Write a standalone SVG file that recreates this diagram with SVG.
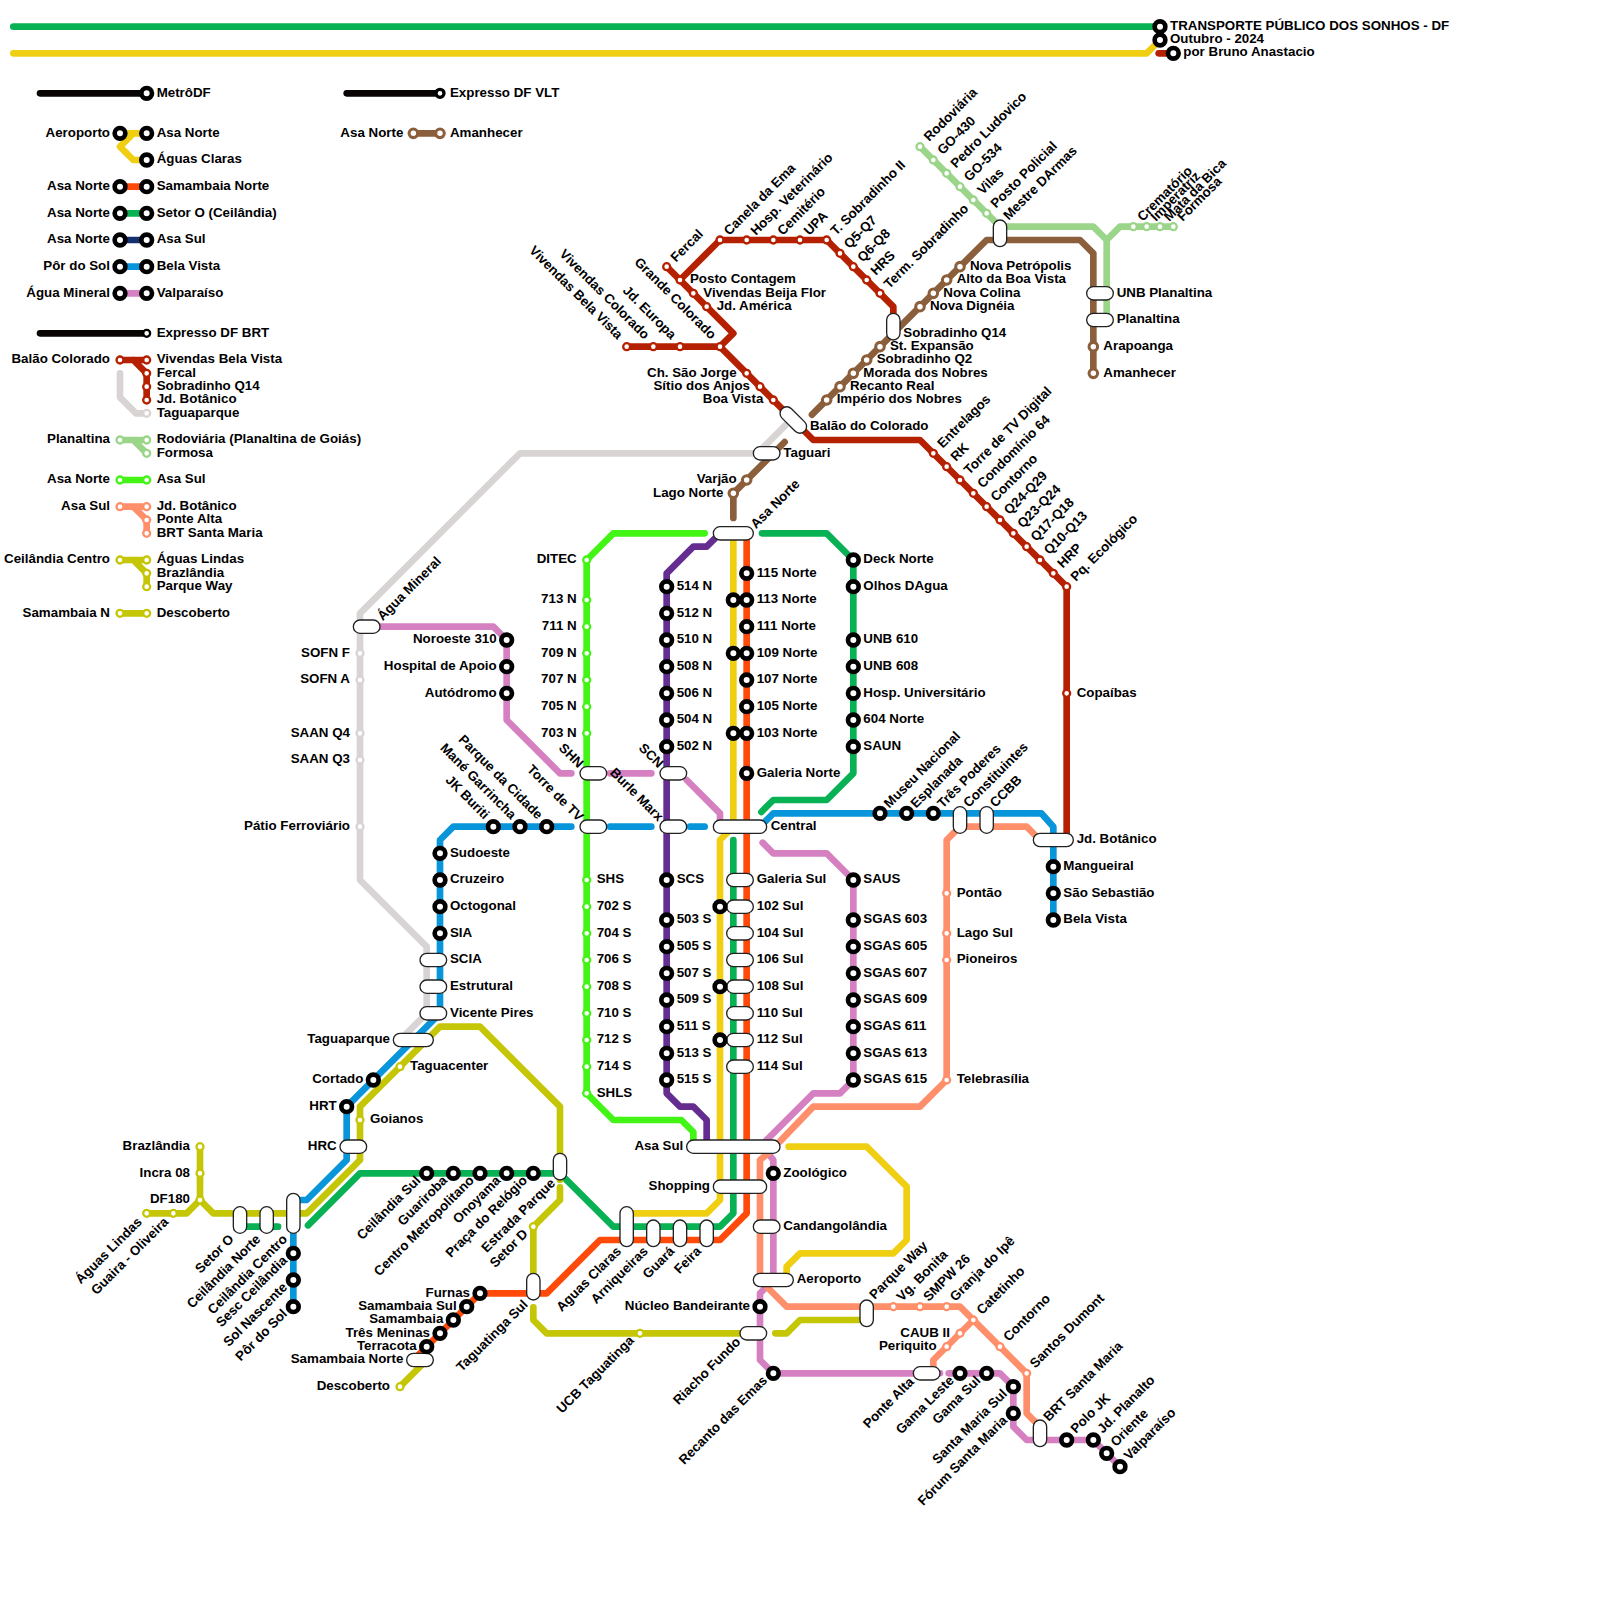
<svg xmlns="http://www.w3.org/2000/svg" width="1600" height="1600" viewBox="0 0 1600 1600">
<style>
.l{fill:none;stroke-width:5;stroke-linecap:round;stroke-linejoin:round}
.gn{stroke:#08b154}.ye{stroke:#f0cf12}.or{stroke:#ff4a0a}.rd{stroke:#b52100}.br{stroke:#8b5e3c}.pu{stroke:#652d90}.bl{stroke:#0895d9}.pk{stroke:#d580c0}.sa{stroke:#ff8f6b}.ol{stroke:#c4c606}.bg{stroke:#42f514}.lg{stroke:#9ad58a}.gr{stroke:#d9d4d4}.nv{stroke:#14306f}.bk{stroke:#0a0505}
circle{fill:#fff}
.m{stroke:#000;stroke-width:3.5}
.s{stroke-width:1.75}
.v{stroke-width:2.3}
rect{fill:#fff;stroke:#222;stroke-width:1}
text{font-family:"Liberation Sans",Arial,sans-serif;font-weight:bold;font-size:10px;fill:#000}
.e{text-anchor:end}
</style>
<g transform="scale(1.33333)">
<g id="connectors">
<path class="l gn" d="M10 20H870"/>
<path class="l ye" d="M10 40H860L870 30"/>
<path class="l rd" d="M869 40H880"/>
<path class="l bk" d="M30 70H110M30 250H110M260 70H330"/>
<path class="l ye" d="M90 100H110M100 100L90 110L100 120H110"/>
<path class="l or" d="M90 140H110"/>
<path class="l gn" d="M90 160H110"/>
<path class="l nv" d="M90 180H110"/>
<path class="l bl" d="M90 200H110"/>
<path class="l pk" d="M90 220H110"/>
<path class="l br" d="M310 100H330"/>
<path class="l rd" d="M90 270H110M100 270L110 280V300"/>
<path class="l gr" d="M90 280V298L102 310H110"/>
<path class="l lg" d="M90 330H110M100 330L110 340"/>
<path class="l bg" d="M90 360H110"/>
<path class="l sa" d="M90 380H110M100 380L110 390V400"/>
<path class="l ol" d="M90 420H110M100 420L110 430V440"/>
<path class="l ol" d="M90 460H110"/>
<path class="l gr" d="M589 319L568 340H390L270 460V660L320 710V760L300 780"/>
<path class="l br" d="M550 388.500V370L588.500 331.500"/>
<path class="l br" d="M609 311L740 180H810L820 190V280"/>
<path class="l lg" d="M690 110L750 170H820L830 180V240M830 180L840 170H880"/>
<path class="l rd" d="M500 200L550 250L540 260H470M540 260L610 330H690L800 440V630"/>
<path class="l rd" d="M510 210L540 180H620L670 230V245"/>
<path class="l bg" d="M528.500 400H460L440 420V820L460 840H511L520 849V858"/>
<path class="l pu" d="M540 400L530 410H520L500 430V820L510 830H520L530 840V860"/>
<path class="l ye" d="M550 400V620L540 630V900L530 910H475"/>
<path class="l gn" d="M550 630V910L540 920H460L420 880H270L231 919"/>
<path class="l gn" d="M185 920H208.500"/>
<path class="l or" d="M560 400V910L540 930H450L410 970H360L310 1020"/>
<path class="l gn" d="M571.500 400H620L640 420V580L620 600H580L571 609"/>
<path class="l bl" d="M428.500 620H340L330 630V760L260 830V870L230 900H225"/>
<path class="l bl" d="M220 925V980"/>
<path class="l bl" d="M457.500 620H488.500M517.500 620H528.500"/>
<path class="l bl" d="M574 616L580 610H781L790 620V690"/>
<path class="l pk" d="M285 470H370L380 480V540L420 580H428.500M457.500 580H488.500M515 585L540 610V620"/>
<path class="l pk" d="M572 632L580 640H620L640 660V810L630 820H610L572 858"/>
<path class="l pk" d="M576 865L580 870V955M574 966L570 970V1020L580 1030H705M711.500 1030H750L760 1040V1070L770 1080H820L840 1100"/>
<path class="l sa" d="M585 856L610 830H690L710 810V630L720 620H770L778 628"/>
<path class="l sa" d="M576 865L570 870V955M576 966L590 980H720L770 1030V1060L777 1067M730 990L700 1020V1026"/>
<path class="l ye" d="M591.500 860H650L680 890V930L670 940H600L590 950V955"/>
<path class="l ol" d="M110 910H140L150 900V860M150 900L160 910H230L270 870V830L330 770H360L420 830V885"/>
<path class="l ol" d="M420 890.500V900L400 920V955M400 980.500V990L410 1000H555M581.500 1000H590L600 990H645"/>
<path class="l ol" d="M320 1020L300 1040"/>
</g>

<g id="title">
<g id="t1"><circle class="m" cx="870" cy="20" r="4"/><text x="877.500" y="22.500">TRANSPORTE PÚBLICO DOS SONHOS - DF</text></g>
<g id="t2"><circle class="m" cx="870" cy="30" r="4"/><text x="877.500" y="32.500">Outubro - 2024</text></g>
<g id="t3"><circle class="m" cx="880" cy="40" r="4"/><text x="887.500" y="42">por Bruno Anastacio</text></g>
</g>

<g id="legend">
<g id="lg-metro"><circle class="m" cx="110" cy="70" r="4"/><text x="117.500" y="72.500">MetrôDF</text></g>
<g id="lg-vlt"><circle class="m" cx="330" cy="70" r="3" style="stroke-width:2.5"/><text x="337.500" y="72.500">Expresso DF VLT</text></g>
<g id="lg-brt"><circle class="s" style="stroke:#000" cx="110" cy="250" r="2.6"/><text x="117.500" y="252.500">Expresso DF BRT</text></g>
<g id="lg-a1"><circle class="m" cx="90" cy="100" r="4"/><text class="e" x="82.500" y="102.500">Aeroporto</text></g>
<g id="lg-a2"><circle class="m" cx="110" cy="100" r="4"/><text x="117.500" y="102.500">Asa Norte</text></g>
<g id="lg-a3"><circle class="m" cx="110" cy="120" r="4"/><text x="117.500" y="122.500">Águas Claras</text></g>
<g id="lg-b1"><circle class="m" cx="90" cy="140" r="4"/><text class="e" x="82.500" y="142.500">Asa Norte</text></g>
<g id="lg-b2"><circle class="m" cx="110" cy="140" r="4"/><text x="117.500" y="142.500">Samambaia Norte</text></g>
<g id="lg-c1"><circle class="m" cx="90" cy="160" r="4"/><text class="e" x="82.500" y="162.500">Asa Norte</text></g>
<g id="lg-c2"><circle class="m" cx="110" cy="160" r="4"/><text x="117.500" y="162.500">Setor O (Ceilândia)</text></g>
<g id="lg-d1"><circle class="m" cx="90" cy="180" r="4"/><text class="e" x="82.500" y="182.500">Asa Norte</text></g>
<g id="lg-d2"><circle class="m" cx="110" cy="180" r="4"/><text x="117.500" y="182.500">Asa Sul</text></g>
<g id="lg-e1"><circle class="m" cx="90" cy="200" r="4"/><text class="e" x="82.500" y="202.500">Pôr do Sol</text></g>
<g id="lg-e2"><circle class="m" cx="110" cy="200" r="4"/><text x="117.500" y="202.500">Bela Vista</text></g>
<g id="lg-f1"><circle class="m" cx="90" cy="220" r="4"/><text class="e" x="82.500" y="222.500">Água Mineral</text></g>
<g id="lg-f2"><circle class="m" cx="110" cy="220" r="4"/><text x="117.500" y="222.500">Valparaíso</text></g>
<g id="lg-g1"><circle class="v br" cx="310" cy="100" r="3.2"/><text class="e" x="302.500" y="102.500">Asa Norte</text></g>
<g id="lg-g2"><circle class="v br" cx="330" cy="100" r="3.2"/><text x="337.500" y="102.500">Amanhecer</text></g>
<g id="lg-h1"><circle class="s rd" cx="90" cy="270" r="2.6"/><text class="e" x="82.500" y="272.500">Balão Colorado</text></g>
<g id="lg-h2"><circle class="s rd" cx="110" cy="270" r="2.6"/><text x="117.500" y="272.500">Vivendas Bela Vista</text></g>
<g id="lg-h3"><circle class="s rd" cx="110" cy="280" r="2.6"/><text x="117.500" y="282.500">Fercal</text></g>
<g id="lg-h4"><circle class="s rd" cx="110" cy="290" r="2.6"/><text x="117.500" y="292.500">Sobradinho Q14</text></g>
<g id="lg-h5"><circle class="s rd" cx="110" cy="300" r="2.6"/><text x="117.500" y="302.500">Jd. Botânico</text></g>
<g id="lg-h6"><circle class="s gr" cx="110" cy="310" r="2.6"/><text x="117.500" y="312.500">Taguaparque</text></g>
<g id="lg-i1"><circle class="s lg" cx="90" cy="330" r="2.6"/><text class="e" x="82.500" y="332.500">Planaltina</text></g>
<g id="lg-i2"><circle class="s lg" cx="110" cy="330" r="2.6"/><text x="117.500" y="332.500">Rodoviária (Planaltina de Goiás)</text></g>
<g id="lg-i3"><circle class="s lg" cx="110" cy="340" r="2.6"/><text x="117.500" y="342.500">Formosa</text></g>
<g id="lg-j1"><circle class="s bg" cx="90" cy="360" r="2.6"/><text class="e" x="82.500" y="362.500">Asa Norte</text></g>
<g id="lg-j2"><circle class="s bg" cx="110" cy="360" r="2.6"/><text x="117.500" y="362.500">Asa Sul</text></g>
<g id="lg-k1"><circle class="s sa" cx="90" cy="380" r="2.6"/><text class="e" x="82.500" y="382.500">Asa Sul</text></g>
<g id="lg-k2"><circle class="s sa" cx="110" cy="380" r="2.6"/><text x="117.500" y="382.500">Jd. Botânico</text></g>
<g id="lg-k3"><circle class="s sa" cx="110" cy="390" r="2.6"/><text x="117.500" y="392.500">Ponte Alta</text></g>
<g id="lg-k4"><circle class="s sa" cx="110" cy="400" r="2.6"/><text x="117.500" y="402.500">BRT Santa Maria</text></g>
<g id="lg-l1"><circle class="s ol" cx="90" cy="420" r="2.6"/><text class="e" x="82.500" y="422.500">Ceilândia Centro</text></g>
<g id="lg-l2"><circle class="s ol" cx="110" cy="420" r="2.6"/><text x="117.500" y="422.500">Águas Lindas</text></g>
<g id="lg-l3"><circle class="s ol" cx="110" cy="430" r="2.6"/><text x="117.500" y="432.500">Brazlândia</text></g>
<g id="lg-l4"><circle class="s ol" cx="110" cy="440" r="2.6"/><text x="117.500" y="442.500">Parque Way</text></g>
<g id="lg-m1"><circle class="s ol" cx="90" cy="460" r="2.6"/><text class="e" x="82.500" y="462.500">Samambaia N</text></g>
<g id="lg-m2"><circle class="s ol" cx="110" cy="460" r="2.6"/><text x="117.500" y="462.500">Descoberto</text></g>
</g>

<g id="nodes-red">
<g id="r1"><circle class="s rd" cx="500" cy="200" r="2.6"/><text transform="rotate(-45 507 197)" x="507" y="197">Fercal</text></g>
<g id="r2"><circle class="s rd" cx="510" cy="210" r="2.6"/><text x="517.500" y="212.500">Posto Contagem</text></g>
<g id="r3"><circle class="s rd" cx="520" cy="220" r="2.6"/><text x="527.500" y="222.500">Vivendas Beija Flor</text></g>
<g id="r4"><circle class="s rd" cx="530" cy="230" r="2.6"/><text x="537.500" y="232.500">Jd. América</text></g>
<g id="r5"><circle class="s rd" cx="470" cy="260" r="2.6"/><text class="e" transform="rotate(45 463 255)" x="463" y="255">Vivendas Bela Vista</text></g>
<g id="r6"><circle class="s rd" cx="490" cy="260" r="2.6"/><text class="e" transform="rotate(45 483 255)" x="483" y="255">Vivendas Colorado</text></g>
<g id="r7"><circle class="s rd" cx="510" cy="260" r="2.6"/><text class="e" transform="rotate(45 503 255)" x="503" y="255">Jd. Europa</text></g>
<g id="r8"><circle class="s rd" cx="540" cy="260" r="2.6"/><text class="e" transform="rotate(45 533 255)" x="533" y="255">Grande Colorado</text></g>
<g id="r9"><circle class="s rd" cx="540" cy="180" r="2.6"/><text transform="rotate(-45 547 177)" x="547" y="177">Canela da Ema</text></g>
<g id="r10"><circle class="s rd" cx="560" cy="180" r="2.6"/><text transform="rotate(-45 567 177)" x="567" y="177">Hosp. Veterinário</text></g>
<g id="r11"><circle class="s rd" cx="580" cy="180" r="2.6"/><text transform="rotate(-45 587 177)" x="587" y="177">Cemitério</text></g>
<g id="r12"><circle class="s rd" cx="600" cy="180" r="2.6"/><text transform="rotate(-45 607 177)" x="607" y="177">UPA</text></g>
<g id="r13"><circle class="s rd" cx="620" cy="180" r="2.6"/><text transform="rotate(-45 627 177)" x="627" y="177">T. Sobradinho II</text></g>
<g id="r14"><circle class="s rd" cx="630" cy="190" r="2.6"/><text transform="rotate(-45 637 187)" x="637" y="187">Q5-Q7</text></g>
<g id="r15"><circle class="s rd" cx="640" cy="200" r="2.6"/><text transform="rotate(-45 647 197)" x="647" y="197">Q6-Q8</text></g>
<g id="r16"><circle class="s rd" cx="650" cy="210" r="2.6"/><text transform="rotate(-45 657 207)" x="657" y="207">HRS</text></g>
<g id="r17"><circle class="s rd" cx="660" cy="220" r="2.6"/><text transform="rotate(-45 667 217)" x="667" y="217">Term. Sobradinho</text></g>
<g id="r18"><circle class="s rd" cx="560" cy="280" r="2.6"/><text class="e" x="552.500" y="282.500">Ch. São Jorge</text></g>
<g id="r19"><circle class="s rd" cx="570" cy="290" r="2.6"/><text class="e" x="562.500" y="292.500">Sítio dos Anjos</text></g>
<g id="r20"><circle class="s rd" cx="580" cy="300" r="2.6"/><text class="e" x="572.500" y="302.500">Boa Vista</text></g>
<g id="r21"><circle class="s rd" cx="700" cy="340" r="2.6"/><text transform="rotate(-45 707 336.500)" x="707" y="336.500">Entrelagos</text></g>
<g id="r22"><circle class="s rd" cx="710" cy="350" r="2.6"/><text transform="rotate(-45 717 346.500)" x="717" y="346.500">RK</text></g>
<g id="r23"><circle class="s rd" cx="720" cy="360" r="2.6"/><text transform="rotate(-45 727 356.500)" x="727" y="356.500">Torre de TV Digital</text></g>
<g id="r24"><circle class="s rd" cx="730" cy="370" r="2.6"/><text transform="rotate(-45 737 366.500)" x="737" y="366.500">Condomínio 64</text></g>
<g id="r25"><circle class="s rd" cx="740" cy="380" r="2.6"/><text transform="rotate(-45 747 376.500)" x="747" y="376.500">Contorno</text></g>
<g id="r26"><circle class="s rd" cx="750" cy="390" r="2.6"/><text transform="rotate(-45 757 386.500)" x="757" y="386.500">Q24-Q29</text></g>
<g id="r27"><circle class="s rd" cx="760" cy="400" r="2.6"/><text transform="rotate(-45 767 396.500)" x="767" y="396.500">Q23-Q24</text></g>
<g id="r28"><circle class="s rd" cx="770" cy="410" r="2.6"/><text transform="rotate(-45 777 406.500)" x="777" y="406.500">Q17-Q18</text></g>
<g id="r29"><circle class="s rd" cx="780" cy="420" r="2.6"/><text transform="rotate(-45 787 416.500)" x="787" y="416.500">Q10-Q13</text></g>
<g id="r30"><circle class="s rd" cx="790" cy="430" r="2.6"/><text transform="rotate(-45 797 426.500)" x="797" y="426.500">HRP</text></g>
<g id="r31"><circle class="s rd" cx="800" cy="440" r="2.6"/><text transform="rotate(-45 807 436.500)" x="807" y="436.500">Pq. Ecológico</text></g>
<g id="r32"><circle class="s rd" cx="800" cy="520" r="2.6"/><text x="807.500" y="522.500">Copaíbas</text></g>
</g>

<g id="nodes-lightgreen">
<g id="lg1"><circle class="s lg" cx="690" cy="110" r="2.6"/><text transform="rotate(-45 697 106.500)" x="697" y="106.500">Rodoviária</text></g>
<g id="lg2"><circle class="s lg" cx="700" cy="120" r="2.6"/><text transform="rotate(-45 707 116.500)" x="707" y="116.500">GO-430</text></g>
<g id="lg3"><circle class="s lg" cx="710" cy="130" r="2.6"/><text transform="rotate(-45 717 126.500)" x="717" y="126.500">Pedro Ludovico</text></g>
<g id="lg4"><circle class="s lg" cx="720" cy="140" r="2.6"/><text transform="rotate(-45 727 136.500)" x="727" y="136.500">GO-534</text></g>
<g id="lg5"><circle class="s lg" cx="730" cy="150" r="2.6"/><text transform="rotate(-45 737 146.500)" x="737" y="146.500">Vilas</text></g>
<g id="lg6"><circle class="s lg" cx="740" cy="160" r="2.6"/><text transform="rotate(-45 747 156.500)" x="747" y="156.500">Posto Policial</text></g>
<g id="lg7"><circle class="s lg" cx="850" cy="170" r="2.6"/><text transform="rotate(-45 857 166.500)" x="857" y="166.500">Crematório</text></g>
<g id="lg8"><circle class="s lg" cx="860" cy="170" r="2.6"/><text transform="rotate(-45 867 166.500)" x="867" y="166.500">Imperatriz</text></g>
<g id="lg9"><circle class="s lg" cx="870" cy="170" r="2.6"/><text transform="rotate(-45 877 166.500)" x="877" y="166.500">Mata da Bica</text></g>
<g id="lg10"><circle class="s lg" cx="880" cy="170" r="2.6"/><text transform="rotate(-45 887 166.500)" x="887" y="166.500">Formosa</text></g>
</g>

<g id="nodes-brown">
<g id="b1"><circle class="v br" cx="820" cy="260" r="3.2"/><text x="827.500" y="262.500">Arapoanga</text></g>
<g id="b2"><circle class="v br" cx="820" cy="280" r="3.2"/><text x="827.500" y="282.500">Amanhecer</text></g>
<g id="b3"><circle class="v br" cx="720" cy="200" r="3.2"/><text x="727.500" y="202.500">Nova Petrópolis</text></g>
<g id="b4"><circle class="v br" cx="710" cy="210" r="3.2"/><text x="717.500" y="212.500">Alto da Boa Vista</text></g>
<g id="b5"><circle class="v br" cx="700" cy="220" r="3.2"/><text x="707.500" y="222.500">Nova Colina</text></g>
<g id="b6"><circle class="v br" cx="690" cy="230" r="3.2"/><text x="697.500" y="232.500">Nova Dignéia</text></g>
<g id="b7"><circle class="v br" cx="660" cy="260" r="3.2"/><text x="667.500" y="262.500">St. Expansão</text></g>
<g id="b8"><circle class="v br" cx="650" cy="270" r="3.2"/><text x="657.500" y="272.500">Sobradinho Q2</text></g>
<g id="b9"><circle class="v br" cx="640" cy="280" r="3.2"/><text x="647.500" y="282.500">Morada dos Nobres</text></g>
<g id="b10"><circle class="v br" cx="630" cy="290" r="3.2"/><text x="637.500" y="292.500">Recanto Real</text></g>
<g id="b11"><circle class="v br" cx="620" cy="300" r="3.2"/><text x="627.500" y="302.500">Império dos Nobres</text></g>
<g id="b12"><circle class="v br" cx="560" cy="360" r="3.2"/><text class="e" x="552.500" y="362.500">Varjão</text></g>
<g id="b13"><circle class="v br" cx="550" cy="370" r="3.2"/><text class="e" x="542.500" y="372.500">Lago Norte</text></g>
</g>

<g id="nodes-caps">
<g id="c-balao"><rect x="583" y="310" width="24" height="10" rx="5" transform="rotate(45 595 315)"/><text x="607.500" y="322.500">Balão do Colorado</text></g>
<g id="c-taguari"><rect x="565" y="335" width="20" height="10" rx="5"/><text x="587.500" y="342.500">Taguari</text></g>
<g id="c-asanorte"><rect x="535" y="395" width="30" height="10" rx="5"/><text transform="rotate(-45 567 397)" x="567" y="397">Asa Norte</text></g>
<g id="c-central"><rect x="535" y="615" width="40" height="10" rx="5"/><text x="578" y="622.500">Central</text></g>
<g id="c-shn"><rect x="435" y="575" width="20" height="10" rx="5"/><text class="e" transform="rotate(45 433.500 576.500)" x="433.500" y="576.500">SHN</text></g>
<g id="c-torre"><rect x="435" y="615" width="20" height="10" rx="5"/><text class="e" transform="rotate(45 433.500 616.500)" x="433.500" y="616.500">Torre de TV</text></g>
<g id="c-scn"><rect x="495" y="575" width="20" height="10" rx="5"/><text class="e" transform="rotate(45 493.500 576.500)" x="493.500" y="576.500">SCN</text></g>
<g id="c-burle"><rect x="495" y="615" width="20" height="10" rx="5"/><text class="e" transform="rotate(45 493.500 616.500)" x="493.500" y="616.500">Burle Marx</text></g>
<g id="c-aguamin"><rect x="265" y="465" width="20" height="10" rx="5"/><text transform="rotate(-45 287 466)" x="287" y="466">Água Mineral</text></g>
<g id="c-q14"><rect x="665" y="235" width="10" height="20" rx="5"/><text x="677.500" y="252.500">Sobradinho Q14</text></g>
<g id="c-mestre"><rect x="745" y="165" width="10" height="20" rx="5"/><text transform="rotate(-45 756.500 165.500)" x="756.500" y="165.500">Mestre DArmas</text></g>
<g id="c-unb"><rect x="815" y="215" width="20" height="10" rx="5"/><text x="837.500" y="222.500">UNB Planaltina</text></g>
<g id="c-plan"><rect x="815" y="235" width="20" height="10" rx="5"/><text x="837.500" y="242.500">Planaltina</text></g>
<g id="c-gsul"><rect x="545" y="655" width="20" height="10" rx="5"/><text x="567.500" y="662.500">Galeria Sul</text></g>
<g id="c-102"><rect x="545" y="675" width="20" height="10" rx="5"/><text x="567.500" y="682.500">102 Sul</text></g>
<g id="c-104"><rect x="545" y="695" width="20" height="10" rx="5"/><text x="567.500" y="702.500">104 Sul</text></g>
<g id="c-106"><rect x="545" y="715" width="20" height="10" rx="5"/><text x="567.500" y="722.500">106 Sul</text></g>
<g id="c-108"><rect x="545" y="735" width="20" height="10" rx="5"/><text x="567.500" y="742.500">108 Sul</text></g>
<g id="c-110"><rect x="545" y="755" width="20" height="10" rx="5"/><text x="567.500" y="762.500">110 Sul</text></g>
<g id="c-112"><rect x="545" y="775" width="20" height="10" rx="5"/><text x="567.500" y="782.500">112 Sul</text></g>
<g id="c-114"><rect x="545" y="795" width="20" height="10" rx="5"/><text x="567.500" y="802.500">114 Sul</text></g>
<g id="c-asasul"><rect x="515" y="855" width="70" height="10" rx="5"/><text class="e" x="512.500" y="862.500">Asa Sul</text></g>
<g id="c-shopping"><rect x="535" y="885" width="40" height="10" rx="5"/><text class="e" x="532.500" y="892.500">Shopping</text></g>
<g id="c-candanga"><rect x="565" y="915" width="20" height="10" rx="5"/><text x="587.500" y="922.500">Candangolândia</text></g>
<g id="c-aeroporto"><rect x="565" y="955" width="30" height="10" rx="5"/><text x="597.500" y="962.500">Aeroporto</text></g>
<g id="c-riacho"><rect x="555" y="995" width="20" height="10" rx="5"/><text class="e" transform="rotate(-45 556 1007)" x="556" y="1007">Riacho Fundo</text></g>
<g id="c-pway"><rect x="645" y="975" width="10" height="20" rx="5"/><text transform="rotate(-45 656 975)" x="656" y="975">Parque Way</text></g>
<g id="c-palta"><rect x="685" y="1025" width="20" height="10" rx="5"/><text class="e" transform="rotate(-45 686 1037)" x="686" y="1037">Ponte Alta</text></g>
<g id="c-brtsm"><rect x="775" y="1065" width="10" height="20" rx="5"/><text transform="rotate(-45 786.500 1066.500)" x="786.500" y="1066.500">BRT Santa Maria</text></g>
<g id="c-const"><rect x="715" y="605" width="10" height="20" rx="5"/><text transform="rotate(-45 726.500 606)" x="726.500" y="606">Constituintes</text></g>
<g id="c-ccbb"><rect x="735" y="605" width="10" height="20" rx="5"/><text transform="rotate(-45 746.500 606)" x="746.500" y="606">CCBB</text></g>
<g id="c-jdb"><rect x="775" y="625" width="30" height="10" rx="5"/><text x="807.500" y="632.500">Jd. Botânico</text></g>
<g id="c-scia"><rect x="315" y="715" width="20" height="10" rx="5"/><text x="337.500" y="722.500">SCIA</text></g>
<g id="c-estr"><rect x="315" y="735" width="20" height="10" rx="5"/><text x="337.500" y="742.500">Estrutural</text></g>
<g id="c-vic"><rect x="315" y="755" width="20" height="10" rx="5"/><text x="337.500" y="762.500">Vicente Pires</text></g>
<g id="c-tagua"><rect x="295" y="775" width="30" height="10" rx="5"/><text class="e" x="292.500" y="782.500">Taguaparque</text></g>
<g id="c-hrc"><rect x="255" y="855" width="20" height="10" rx="5"/><text class="e" x="252.500" y="862.500">HRC</text></g>
<g id="c-setoro"><rect x="175" y="905" width="10" height="20" rx="5"/><text class="e" transform="rotate(-45 176 930)" x="176" y="930">Setor O</text></g>
<g id="c-cnorte"><rect x="195" y="905" width="10" height="20" rx="5"/><text class="e" transform="rotate(-45 196 930)" x="196" y="930">Ceilândia Norte</text></g>
<g id="c-ccentro"><rect x="215" y="895" width="10" height="30" rx="5"/><text class="e" transform="rotate(-45 216 930)" x="216" y="930">Ceilândia Centro</text></g>
<g id="c-estrada"><rect x="415" y="865" width="10" height="20" rx="5"/><text class="e" transform="rotate(-45 417 888)" x="417" y="888">Estrada Parque</text></g>
<g id="c-tsul"><rect x="395" y="955" width="10" height="20" rx="5"/><text class="e" transform="rotate(-45 396.500 979)" x="396.500" y="979">Taguatinga Sul</text></g>
<g id="c-snorte"><rect x="305" y="1015" width="20" height="10" rx="5"/><text class="e" x="302.500" y="1022.500">Samambaia Norte</text></g>
<g id="c-aclaras"><rect x="465" y="905" width="10" height="30" rx="5"/><text class="e" transform="rotate(-45 466.500 939)" x="466.500" y="939">Aguas Claras</text></g>
<g id="c-arniq"><rect x="485" y="915" width="10" height="20" rx="5"/><text class="e" transform="rotate(-45 486.500 939)" x="486.500" y="939">Arniqueiras</text></g>
<g id="c-guara"><rect x="505" y="915" width="10" height="20" rx="5"/><text class="e" transform="rotate(-45 506.500 939)" x="506.500" y="939">Guará</text></g>
<g id="c-feira"><rect x="525" y="915" width="10" height="20" rx="5"/><text class="e" transform="rotate(-45 526.500 939)" x="526.500" y="939">Feira</text></g>
</g>

<g id="nodes-brightgreen">
<g id="g1"><circle class="s bg" cx="440" cy="420" r="2.6"/><text class="e" x="432.500" y="422.500">DITEC</text></g>
<g id="g2"><circle class="s bg" cx="440" cy="450" r="2.6"/><text class="e" x="432.500" y="452.500">713 N</text></g>
<g id="g3"><circle class="s bg" cx="440" cy="470" r="2.6"/><text class="e" x="432.500" y="472.500">711 N</text></g>
<g id="g4"><circle class="s bg" cx="440" cy="490" r="2.6"/><text class="e" x="432.500" y="492.500">709 N</text></g>
<g id="g5"><circle class="s bg" cx="440" cy="510" r="2.6"/><text class="e" x="432.500" y="512.500">707 N</text></g>
<g id="g6"><circle class="s bg" cx="440" cy="530" r="2.6"/><text class="e" x="432.500" y="532.500">705 N</text></g>
<g id="g7"><circle class="s bg" cx="440" cy="550" r="2.6"/><text class="e" x="432.500" y="552.500">703 N</text></g>
<g id="g8"><circle class="s bg" cx="440" cy="660" r="2.6"/><text x="447.500" y="662.500">SHS</text></g>
<g id="g9"><circle class="s bg" cx="440" cy="680" r="2.6"/><text x="447.500" y="682.500">702 S</text></g>
<g id="g10"><circle class="s bg" cx="440" cy="700" r="2.6"/><text x="447.500" y="702.500">704 S</text></g>
<g id="g11"><circle class="s bg" cx="440" cy="720" r="2.6"/><text x="447.500" y="722.500">706 S</text></g>
<g id="g12"><circle class="s bg" cx="440" cy="740" r="2.6"/><text x="447.500" y="742.500">708 S</text></g>
<g id="g13"><circle class="s bg" cx="440" cy="760" r="2.6"/><text x="447.500" y="762.500">710 S</text></g>
<g id="g14"><circle class="s bg" cx="440" cy="780" r="2.6"/><text x="447.500" y="782.500">712 S</text></g>
<g id="g15"><circle class="s bg" cx="440" cy="800" r="2.6"/><text x="447.500" y="802.500">714 S</text></g>
<g id="g16"><circle class="s bg" cx="440" cy="820" r="2.6"/><text x="447.500" y="822.500">SHLS</text></g>
</g>

<g id="nodes-purple">
<g id="p1"><circle class="m" cx="500" cy="440" r="4"/><text x="507.500" y="442.500">514 N</text></g>
<g id="p2"><circle class="m" cx="500" cy="460" r="4"/><text x="507.500" y="462.500">512 N</text></g>
<g id="p3"><circle class="m" cx="500" cy="480" r="4"/><text x="507.500" y="482.500">510 N</text></g>
<g id="p4"><circle class="m" cx="500" cy="500" r="4"/><text x="507.500" y="502.500">508 N</text></g>
<g id="p5"><circle class="m" cx="500" cy="520" r="4"/><text x="507.500" y="522.500">506 N</text></g>
<g id="p6"><circle class="m" cx="500" cy="540" r="4"/><text x="507.500" y="542.500">504 N</text></g>
<g id="p7"><circle class="m" cx="500" cy="560" r="4"/><text x="507.500" y="562.500">502 N</text></g>
<g id="p8"><circle class="m" cx="500" cy="660" r="4"/><text x="507.500" y="662.500">SCS</text></g>
<g id="p9"><circle class="m" cx="500" cy="690" r="4"/><text x="507.500" y="692.500">503 S</text></g>
<g id="p10"><circle class="m" cx="500" cy="710" r="4"/><text x="507.500" y="712.500">505 S</text></g>
<g id="p11"><circle class="m" cx="500" cy="730" r="4"/><text x="507.500" y="732.500">507 S</text></g>
<g id="p12"><circle class="m" cx="500" cy="750" r="4"/><text x="507.500" y="752.500">509 S</text></g>
<g id="p13"><circle class="m" cx="500" cy="770" r="4"/><text x="507.500" y="772.500">511 S</text></g>
<g id="p14"><circle class="m" cx="500" cy="790" r="4"/><text x="507.500" y="792.500">513 S</text></g>
<g id="p15"><circle class="m" cx="500" cy="810" r="4"/><text x="507.500" y="812.500">515 S</text></g>
</g>

<g id="nodes-orange">
<g id="o1"><circle class="m" cx="560" cy="430" r="4"/><text x="567.500" y="432.500">115 Norte</text></g>
<g id="o2"><circle class="m" cx="560" cy="450" r="4"/><text x="567.500" y="452.500">113 Norte</text></g>
<g id="o3"><circle class="m" cx="560" cy="470" r="4"/><text x="567.500" y="472.500">111 Norte</text></g>
<g id="o4"><circle class="m" cx="560" cy="490" r="4"/><text x="567.500" y="492.500">109 Norte</text></g>
<g id="o5"><circle class="m" cx="560" cy="510" r="4"/><text x="567.500" y="512.500">107 Norte</text></g>
<g id="o6"><circle class="m" cx="560" cy="530" r="4"/><text x="567.500" y="532.500">105 Norte</text></g>
<g id="o7"><circle class="m" cx="560" cy="550" r="4"/><text x="567.500" y="552.500">103 Norte</text></g>
<g id="o8"><circle class="m" cx="560" cy="580" r="4"/><text x="567.500" y="582.500">Galeria Norte</text></g>
<g id="y1"><circle class="m" cx="550" cy="450" r="4"/></g>
<g id="y2"><circle class="m" cx="550" cy="490" r="4"/></g>
<g id="y3"><circle class="m" cx="550" cy="550" r="4"/></g>
<g id="y4"><circle class="m" cx="540" cy="680" r="4"/></g>
<g id="y5"><circle class="m" cx="540" cy="740" r="4"/></g>
<g id="y6"><circle class="m" cx="540" cy="780" r="4"/></g>
<g id="o9"><circle class="m" cx="360" cy="970" r="4"/><text class="e" x="352.500" y="972.500">Furnas</text></g>
<g id="o10"><circle class="m" cx="350" cy="980" r="4"/><text class="e" x="342.500" y="982.500">Samambaia Sul</text></g>
<g id="o11"><circle class="m" cx="340" cy="990" r="4"/><text class="e" x="332.500" y="992.500">Samambaia</text></g>
<g id="o12"><circle class="m" cx="330" cy="1000" r="4"/><text class="e" x="322.500" y="1002.500">Três Meninas</text></g>
<g id="o13"><circle class="m" cx="320" cy="1010" r="4"/><text class="e" x="312.500" y="1012.500">Terracota</text></g>
</g>

<g id="nodes-green">
<g id="n1"><circle class="m" cx="640" cy="420" r="4"/><text x="647.500" y="422.500">Deck Norte</text></g>
<g id="n2"><circle class="m" cx="640" cy="440" r="4"/><text x="647.500" y="442.500">Olhos DAgua</text></g>
<g id="n3"><circle class="m" cx="640" cy="480" r="4"/><text x="647.500" y="482.500">UNB 610</text></g>
<g id="n4"><circle class="m" cx="640" cy="500" r="4"/><text x="647.500" y="502.500">UNB 608</text></g>
<g id="n5"><circle class="m" cx="640" cy="520" r="4"/><text x="647.500" y="522.500">Hosp. Universitário</text></g>
<g id="n6"><circle class="m" cx="640" cy="540" r="4"/><text x="647.500" y="542.500">604 Norte</text></g>
<g id="n7"><circle class="m" cx="640" cy="560" r="4"/><text x="647.500" y="562.500">SAUN</text></g>
<g id="n8"><circle class="m" cx="320" cy="880" r="4"/><text class="e" transform="rotate(-45 316 886)" x="316" y="886">Ceilândia Sul</text></g>
<g id="n9"><circle class="m" cx="340" cy="880" r="4"/><text class="e" transform="rotate(-45 336 886)" x="336" y="886">Guariroba</text></g>
<g id="n10"><circle class="m" cx="360" cy="880" r="4"/><text class="e" transform="rotate(-45 356 886)" x="356" y="886">Centro Metropolitano</text></g>
<g id="n11"><circle class="m" cx="380" cy="880" r="4"/><text class="e" transform="rotate(-45 376 886)" x="376" y="886">Onoyama</text></g>
<g id="n12"><circle class="m" cx="400" cy="880" r="4"/><text class="e" transform="rotate(-45 396 886)" x="396" y="886">Praça do Relógio</text></g>
</g>

<g id="nodes-blue">
<g id="u1"><circle class="m" cx="660" cy="610" r="4"/><text transform="rotate(-45 667 606.500)" x="667" y="606.500">Museu Nacional</text></g>
<g id="u2"><circle class="m" cx="680" cy="610" r="4"/><text transform="rotate(-45 687 606.500)" x="687" y="606.500">Esplanada</text></g>
<g id="u3"><circle class="m" cx="700" cy="610" r="4"/><text transform="rotate(-45 707 606.500)" x="707" y="606.500">Três Poderes</text></g>
<g id="u4"><circle class="m" cx="790" cy="650" r="4"/><text x="797.500" y="652.500">Mangueiral</text></g>
<g id="u5"><circle class="m" cx="790" cy="670" r="4"/><text x="797.500" y="672.500">São Sebastião</text></g>
<g id="u6"><circle class="m" cx="790" cy="690" r="4"/><text x="797.500" y="692.500">Bela Vista</text></g>
<g id="u7"><circle class="m" cx="370" cy="620" r="4"/><text class="e" transform="rotate(45 363 615)" x="363" y="615">JK Buriti</text></g>
<g id="u8"><circle class="m" cx="390" cy="620" r="4"/><text class="e" transform="rotate(45 383 615)" x="383" y="615">Mané Garrincha</text></g>
<g id="u9"><circle class="m" cx="410" cy="620" r="4"/><text class="e" transform="rotate(45 403 615)" x="403" y="615">Parque da Cidade</text></g>
<g id="u10"><circle class="m" cx="330" cy="640" r="4"/><text x="337.500" y="642.500">Sudoeste</text></g>
<g id="u11"><circle class="m" cx="330" cy="660" r="4"/><text x="337.500" y="662.500">Cruzeiro</text></g>
<g id="u12"><circle class="m" cx="330" cy="680" r="4"/><text x="337.500" y="682.500">Octogonal</text></g>
<g id="u13"><circle class="m" cx="330" cy="700" r="4"/><text x="337.500" y="702.500">SIA</text></g>
<g id="u14"><circle class="m" cx="280" cy="810" r="4"/><text class="e" x="272.500" y="812.500">Cortado</text></g>
<g id="u15"><circle class="m" cx="260" cy="830" r="4"/><text class="e" x="252.500" y="832.500">HRT</text></g>
<g id="u16"><circle class="m" cx="220" cy="940" r="4"/><text class="e" transform="rotate(-45 216 946)" x="216" y="946">Sesc Ceilândia</text></g>
<g id="u17"><circle class="m" cx="220" cy="960" r="4"/><text class="e" transform="rotate(-45 216 966)" x="216" y="966">Sol Nascente</text></g>
<g id="u18"><circle class="m" cx="220" cy="980" r="4"/><text class="e" transform="rotate(-45 216 986)" x="216" y="986">Pôr do Sol</text></g>
</g>

<g id="nodes-pink">
<g id="k1"><circle class="m" cx="380" cy="480" r="4"/><text class="e" x="372.500" y="482.500">Noroeste 310</text></g>
<g id="k2"><circle class="m" cx="380" cy="500" r="4"/><text class="e" x="372.500" y="502.500">Hospital de Apoio</text></g>
<g id="k3"><circle class="m" cx="380" cy="520" r="4"/><text class="e" x="372.500" y="522.500">Autódromo</text></g>
<g id="k4"><circle class="m" cx="640" cy="660" r="4"/><text x="647.500" y="662.500">SAUS</text></g>
<g id="k5"><circle class="m" cx="640" cy="690" r="4"/><text x="647.500" y="692.500">SGAS 603</text></g>
<g id="k6"><circle class="m" cx="640" cy="710" r="4"/><text x="647.500" y="712.500">SGAS 605</text></g>
<g id="k7"><circle class="m" cx="640" cy="730" r="4"/><text x="647.500" y="732.500">SGAS 607</text></g>
<g id="k8"><circle class="m" cx="640" cy="750" r="4"/><text x="647.500" y="752.500">SGAS 609</text></g>
<g id="k9"><circle class="m" cx="640" cy="770" r="4"/><text x="647.500" y="772.500">SGAS 611</text></g>
<g id="k10"><circle class="m" cx="640" cy="790" r="4"/><text x="647.500" y="792.500">SGAS 613</text></g>
<g id="k11"><circle class="m" cx="640" cy="810" r="4"/><text x="647.500" y="812.500">SGAS 615</text></g>
<g id="k12"><circle class="m" cx="580" cy="880" r="4"/><text x="587.500" y="882.500">Zoológico</text></g>
<g id="k13"><circle class="m" cx="570" cy="980" r="4"/><text class="e" x="562.500" y="982.500">Núcleo Bandeirante</text></g>
<g id="k14"><circle class="m" cx="580" cy="1030" r="4"/><text class="e" transform="rotate(-45 576 1036)" x="576" y="1036">Recanto das Emas</text></g>
<g id="k15"><circle class="m" cx="720" cy="1030" r="4"/><text class="e" transform="rotate(-45 716 1036)" x="716" y="1036">Gama Leste</text></g>
<g id="k16"><circle class="m" cx="740" cy="1030" r="4"/><text class="e" transform="rotate(-45 736 1036)" x="736" y="1036">Gama Sul</text></g>
<g id="k17"><circle class="m" cx="760" cy="1040" r="4"/><text class="e" transform="rotate(-45 756 1046)" x="756" y="1046">Santa Maria Sul</text></g>
<g id="k18"><circle class="m" cx="760" cy="1060" r="4"/><text class="e" transform="rotate(-45 756 1066)" x="756" y="1066">Fórum Santa Maria</text></g>
<g id="k19"><circle class="m" cx="800" cy="1080" r="4"/><text transform="rotate(-45 807 1075.500)" x="807" y="1075.500">Polo JK</text></g>
<g id="k20"><circle class="m" cx="820" cy="1080" r="4"/><text transform="rotate(-45 827 1075.500)" x="827" y="1075.500">Jd. Planalto</text></g>
<g id="k21"><circle class="m" cx="830" cy="1090" r="4"/><text transform="rotate(-45 837 1085.500)" x="837" y="1085.500">Oriente</text></g>
<g id="k22"><circle class="m" cx="840" cy="1100" r="4"/><text transform="rotate(-45 847 1095.500)" x="847" y="1095.500">Valparaíso</text></g>
</g>

<g id="nodes-salmon">
<g id="a1"><circle class="s sa" cx="710" cy="670" r="2.6"/><text x="717.500" y="672.500">Pontão</text></g>
<g id="a2"><circle class="s sa" cx="710" cy="700" r="2.6"/><text x="717.500" y="702.500">Lago Sul</text></g>
<g id="a3"><circle class="s sa" cx="710" cy="720" r="2.6"/><text x="717.500" y="722.500">Pioneiros</text></g>
<g id="a4"><circle class="s sa" cx="710" cy="810" r="2.6"/><text x="717.500" y="812.500">Telebrasília</text></g>
<g id="a5"><circle class="s sa" cx="670" cy="980" r="2.6"/><text transform="rotate(-45 676.500 976.500)" x="676.500" y="976.500">Vg. Bonita</text></g>
<g id="a6"><circle class="s sa" cx="690" cy="980" r="2.6"/><text transform="rotate(-45 696.500 976.500)" x="696.500" y="976.500">SMPW 26</text></g>
<g id="a7"><circle class="s sa" cx="710" cy="980" r="2.6"/><text transform="rotate(-45 716.500 976.500)" x="716.500" y="976.500">Granja do Ipê</text></g>
<g id="a8"><circle class="s sa" cx="730" cy="990" r="2.6"/><text transform="rotate(-45 736.500 986.500)" x="736.500" y="986.500">Catetinho</text></g>
<g id="a9"><circle class="s sa" cx="750" cy="1010" r="2.6"/><text transform="rotate(-45 756.500 1006.500)" x="756.500" y="1006.500">Contorno</text></g>
<g id="a10"><circle class="s sa" cx="770" cy="1030" r="2.6"/><text transform="rotate(-45 776.500 1026.500)" x="776.500" y="1026.500">Santos Dumont</text></g>
<g id="a11"><circle class="s sa" cx="720" cy="1000" r="2.6"/><text class="e" x="712.500" y="1002.500">CAUB II</text></g>
<g id="a12"><circle class="s sa" cx="710" cy="1010" r="2.6"/><text class="e" x="702.500" y="1012.500">Periquito</text></g>
</g>

<g id="nodes-grey">
<g id="e1"><circle class="s gr" cx="270" cy="490" r="2.6"/><text class="e" x="262.500" y="492.500">SOFN F</text></g>
<g id="e2"><circle class="s gr" cx="270" cy="510" r="2.6"/><text class="e" x="262.500" y="512.500">SOFN A</text></g>
<g id="e3"><circle class="s gr" cx="270" cy="550" r="2.6"/><text class="e" x="262.500" y="552.500">SAAN Q4</text></g>
<g id="e4"><circle class="s gr" cx="270" cy="570" r="2.6"/><text class="e" x="262.500" y="572.500">SAAN Q3</text></g>
<g id="e5"><circle class="s gr" cx="270" cy="620" r="2.6"/><text class="e" x="262.500" y="622.500">Pátio Ferroviário</text></g>
</g>

<g id="nodes-olive">
<g id="v1"><circle class="s ol" cx="300" cy="800" r="2.6"/><text x="307.500" y="802.500">Taguacenter</text></g>
<g id="v2"><circle class="s ol" cx="270" cy="840" r="2.6"/><text x="277.500" y="842.500">Goianos</text></g>
<g id="v3"><circle class="s ol" cx="150" cy="860" r="2.6"/><text class="e" x="142.500" y="862.500">Brazlândia</text></g>
<g id="v4"><circle class="s ol" cx="150" cy="880" r="2.6"/><text class="e" x="142.500" y="882.500">Incra 08</text></g>
<g id="v5"><circle class="s ol" cx="150" cy="900" r="2.6"/><text class="e" x="142.500" y="902.500">DF180</text></g>
<g id="v6"><circle class="s ol" cx="110" cy="910" r="2.6"/><text class="e" transform="rotate(-45 107 917)" x="107" y="917">Águas Lindas</text></g>
<g id="v7"><circle class="s ol" cx="130" cy="910" r="2.6"/><text class="e" transform="rotate(-45 127 917)" x="127" y="917">Guaira - Oliveira</text></g>
<g id="v8"><circle class="s ol" cx="400" cy="920" r="2.6"/><text class="e" transform="rotate(-45 396.500 926)" x="396.500" y="926">Setor D</text></g>
<g id="v9"><circle class="s ol" cx="480" cy="1000" r="2.6"/><text class="e" transform="rotate(-45 476 1006)" x="476" y="1006">UCB Taguatinga</text></g>
<g id="v10"><circle class="s ol" cx="300" cy="1040" r="2.6"/><text class="e" x="292.500" y="1042.500">Descoberto</text></g>
</g>
</g>
</svg>
